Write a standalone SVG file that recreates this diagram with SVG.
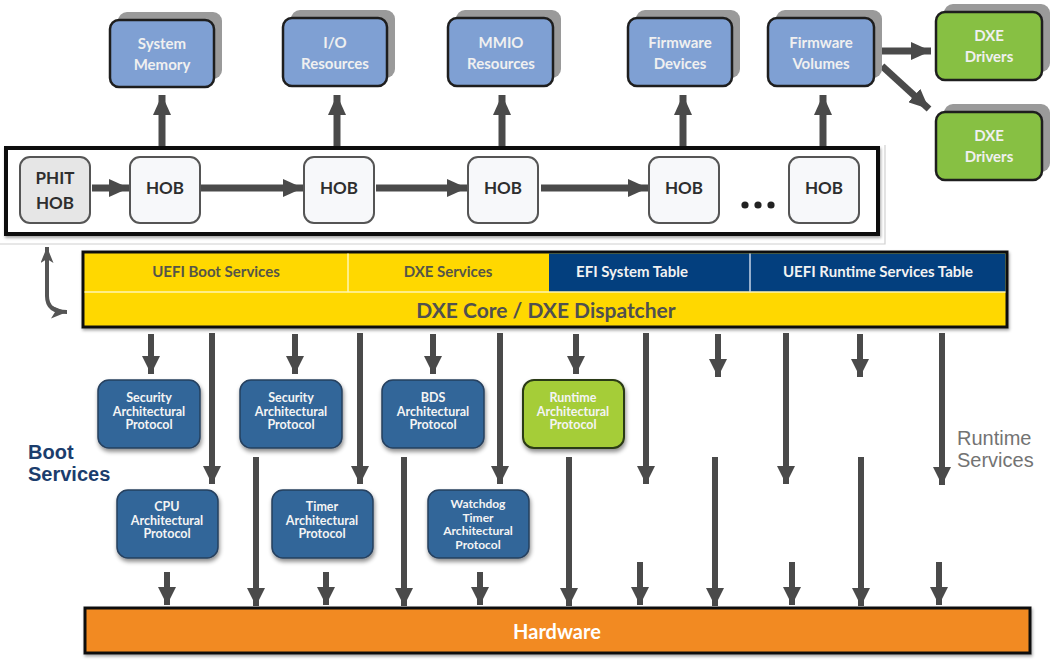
<svg xmlns="http://www.w3.org/2000/svg" width="1055" height="664" viewBox="0 0 1055 664">
<defs>
<style>
.res{fill:#7fa0d3;stroke:#1e1e1e;stroke-width:2.5}
.shadow{fill:#9a9a9a}
.drv{fill:#87c043;stroke:#1e1e1e;stroke-width:2.5}
.rt{fill:#f0f0f0;font-family:Lato,"Open Sans",sans-serif;font-weight:bold;font-size:15px;text-anchor:middle}
.hob{fill:#f7f8fa;stroke:#555;stroke-width:2}
.phit{fill:#e6e6e6;stroke:#555;stroke-width:2}
.ht{fill:#2e2e2e;font-family:Lato,"Open Sans",sans-serif;font-weight:bold;font-size:17px;text-anchor:middle}
.proto{fill:#336699;stroke:#26405e;stroke-width:1.5;filter:url(#ds)}
.protog{fill:#a5cd39;stroke:#2c3a14;stroke-width:2;filter:url(#ds)}
.pt{fill:#f4f4f4;font-family:Lato,"Open Sans",sans-serif;font-weight:bold;font-size:12.5px;text-anchor:middle}
.pts{fill:#f4f4f4;font-family:Lato,"Open Sans",sans-serif;font-weight:bold;font-size:12px;text-anchor:middle}
.cellt{font-family:Lato,"Open Sans",sans-serif;font-weight:bold;font-size:15px;text-anchor:middle}
.arr{stroke:#4a4a4a;stroke-width:6;fill:none;marker-end:url(#ah)}
.arrT{stroke:#4a4a4a;stroke-width:7;fill:none;marker-end:url(#ahB)}
.lbl{font-family:"Liberation Sans",Arial,sans-serif;font-size:20px}
</style>
<marker id="ah" markerUnits="userSpaceOnUse" markerWidth="18" markerHeight="20" refX="18" refY="9" orient="auto" viewBox="0 0 18 18">
<path d="M0,0 L18,9 L0,18 Z" fill="#4a4a4a"/>
</marker>
<marker id="ahB" markerUnits="userSpaceOnUse" markerWidth="20" markerHeight="18" refX="20" refY="9" orient="auto" viewBox="0 0 20 18">
<path d="M0,0 L20,9 L0,18 Z" fill="#4a4a4a"/>
</marker>
<marker id="ahS" markerUnits="userSpaceOnUse" markerWidth="16" markerHeight="13" refX="16" refY="6.5" orient="auto" viewBox="0 0 16 13">
<path d="M0,0 L16,6.5 L0,13 L4,6.5 Z" fill="#555"/>
</marker>
<marker id="ahS0" markerUnits="userSpaceOnUse" markerWidth="16" markerHeight="13" refX="16" refY="6.5" orient="auto-start-reverse" viewBox="0 0 16 13">
<path d="M0,0 L16,6.5 L0,13 L4,6.5 Z" fill="#555"/>
</marker>
<filter id="ds" x="-10%" y="-10%" width="130%" height="140%">
<feDropShadow dx="1" dy="3" stdDeviation="2" flood-color="#000" flood-opacity="0.45"/>
</filter>
<filter id="ds2" x="-5%" y="-10%" width="110%" height="130%">
<feDropShadow dx="1" dy="2" stdDeviation="1.5" flood-color="#000" flood-opacity="0.35"/>
</filter>
</defs>
<rect width="1055" height="664" fill="#ffffff"/>

<!-- HOB list container -->
<g id="hob-list">
<path d="M0,244 H885 V145" fill="none" stroke="#d0d0d0" stroke-width="1.2"/>
<rect x="6" y="148" width="872" height="86" fill="#ffffff" stroke="#111" stroke-width="4" filter="url(#ds2)"/>
</g>

<g id="connectors">
<!-- up arrows to resources -->
<path class="arrT" d="M162,146 V95"/>
<path class="arrT" d="M337,146 V95"/>
<path class="arrT" d="M502,146 V95"/>
<path class="arrT" d="M683,146 V95"/>
<path class="arrT" d="M823,146 V95"/>
<!-- FV to DXE drivers -->
<path class="arrT" d="M882,51 H931"/>
<path class="arrT" d="M882,66 L929,109"/>
<!-- HOB chain -->
<path class="arrT" d="M92,188 H129"/>
<path class="arrT" d="M200,188 H303"/>
<path class="arrT" d="M376,188 H467"/>
<path class="arrT" d="M541,188 H648"/>
<!-- left bidirectional curved arrow -->
<path d="M47,247 V296 Q47,312 67,312" fill="none" stroke="#555" stroke-width="4" marker-start="url(#ahS0)" marker-end="url(#ahS)"/>
<!-- dispatcher to row1 (short) -->
<path class="arr" d="M151,334 V374"/>
<path class="arr" d="M295,334 V374"/>
<path class="arr" d="M433,334 V374"/>
<path class="arr" d="M576,334 V374"/>
<path class="arr" d="M718,334 V377"/>
<path class="arr" d="M860,334 V377"/>
<!-- dispatcher long -->
<path class="arr" d="M212,333 V484"/>
<path class="arr" d="M360,333 V484"/>
<path class="arr" d="M500,333 V484"/>
<path class="arr" d="M646,333 V484"/>
<path class="arr" d="M786,333 V484"/>
<path class="arr" d="M942,333 V485"/>
<!-- long to hardware -->
<path class="arr" d="M256,457 V606"/>
<path class="arr" d="M404,457 V606"/>
<path class="arr" d="M569,457 V606"/>
<path class="arr" d="M715,457 V606"/>
<path class="arr" d="M861,457 V606"/>
<!-- short to hardware -->
<path class="arr" d="M167,572 V605"/>
<path class="arr" d="M326,572 V605"/>
<path class="arr" d="M480,572 V605"/>
<path class="arr" d="M640,562 V605"/>
<path class="arr" d="M792,562 V605"/>
<path class="arr" d="M939,562 V605"/>
</g>

<!-- resources -->
<g id="system-memory">
<rect class="shadow" x="118" y="12" width="104" height="67" rx="9"/>
<rect class="res" x="110" y="20" width="104" height="67" rx="9"/>
<text class="rt" x="162" y="49">System</text><text class="rt" x="162" y="70">Memory</text>
</g>
<g id="io-resources">
<rect class="shadow" x="291" y="10" width="104" height="68" rx="9"/>
<rect class="res" x="283" y="18" width="104" height="68" rx="9"/>
<text class="rt" x="335" y="48">I/O</text><text class="rt" x="335" y="69">Resources</text>
</g>
<g id="mmio-resources">
<rect class="shadow" x="456" y="10" width="105" height="68" rx="9"/>
<rect class="res" x="448" y="18" width="105" height="68" rx="9"/>
<text class="rt" x="501" y="48">MMIO</text><text class="rt" x="501" y="69">Resources</text>
</g>
<g id="firmware-devices">
<rect class="shadow" x="636" y="10" width="104" height="68" rx="9"/>
<rect class="res" x="628" y="18" width="104" height="68" rx="9"/>
<text class="rt" x="680" y="48">Firmware</text><text class="rt" x="680" y="69">Devices</text>
</g>
<g id="firmware-volumes">
<rect class="shadow" x="776" y="10" width="106" height="68" rx="9"/>
<rect class="res" x="768" y="18" width="106" height="68" rx="9"/>
<text class="rt" x="821" y="48">Firmware</text><text class="rt" x="821" y="69">Volumes</text>
</g>
<g id="dxe-drivers-1">
<rect class="shadow" x="944" y="4" width="106" height="68" rx="9"/>
<rect class="drv" x="936" y="12" width="106" height="68" rx="9"/>
<text class="rt" x="989" y="41">DXE</text><text class="rt" x="989" y="62">Drivers</text>
</g>
<g id="dxe-drivers-2">
<rect class="shadow" x="944" y="104" width="106" height="68" rx="9"/>
<rect class="drv" x="936" y="112" width="106" height="68" rx="9"/>
<text class="rt" x="989" y="141">DXE</text><text class="rt" x="989" y="162">Drivers</text>
</g>

<!-- HOBs -->
<g id="phit-hob"><rect class="phit" x="20" y="157" width="70" height="66" rx="10"/><text class="ht" x="55" y="184">PHIT</text><text class="ht" x="55" y="209">HOB</text></g>
<g id="hob-1"><rect class="hob" x="130" y="157" width="70" height="66" rx="10"/><text class="ht" x="165" y="194">HOB</text></g>
<g id="hob-2"><rect class="hob" x="304" y="157" width="70" height="66" rx="10"/><text class="ht" x="339" y="194">HOB</text></g>
<g id="hob-3"><rect class="hob" x="468" y="157" width="70" height="66" rx="10"/><text class="ht" x="503" y="194">HOB</text></g>
<g id="hob-4"><rect class="hob" x="649" y="157" width="70" height="66" rx="10"/><text class="ht" x="684" y="194">HOB</text></g>
<g id="hob-dots"><circle cx="745" cy="205" r="3.6" fill="#222"/><circle cx="758" cy="205" r="3.6" fill="#222"/><circle cx="771" cy="205" r="3.6" fill="#222"/></g>
<g id="hob-5"><rect class="hob" x="789" y="157" width="70" height="66" rx="10"/><text class="ht" x="824" y="194">HOB</text></g>

<!-- Dispatcher -->
<g id="dxe-core">
<rect x="83" y="252" width="924" height="75" fill="#ffd800" stroke="#111" stroke-width="3" filter="url(#ds2)"/>
<rect x="549" y="253.5" width="456.5" height="38.5" fill="#033f7e"/>
<line x1="84.5" y1="292" x2="1005.5" y2="292" stroke="#fff6b0" stroke-width="1.5"/>
<line x1="348" y1="253.5" x2="348" y2="292" stroke="#fff6b0" stroke-width="1.5"/>
<line x1="750" y1="253.5" x2="750" y2="292" stroke="#c9d6e8" stroke-width="1.5"/>
<text class="cellt" x="216" y="277" fill="#555548">UEFI Boot Services</text>
<text class="cellt" x="448" y="277" fill="#555548">DXE Services</text>
<text class="cellt" x="632" y="277" fill="#f2f2f2">EFI System Table</text>
<text class="cellt" x="878" y="277" fill="#f2f2f2">UEFI Runtime Services Table</text>
<text x="546" y="318" font-family="Lato,'Open Sans',sans-serif" font-weight="bold" font-size="21" fill="#505050" text-anchor="middle">DXE Core / DXE Dispatcher</text>
</g>

<!-- protocols row 1 -->
<g id="security-ap-1"><rect class="proto" x="98" y="380" width="102" height="68" rx="11"/><text class="pt" x="149" y="402">Security</text><text class="pt" x="149" y="416">Architectural</text><text class="pt" x="149" y="429">Protocol</text></g>
<g id="security-ap-2"><rect class="proto" x="240" y="380" width="102" height="68" rx="11"/><text class="pt" x="291" y="402">Security</text><text class="pt" x="291" y="416">Architectural</text><text class="pt" x="291" y="429">Protocol</text></g>
<g id="bds-ap"><rect class="proto" x="382" y="380" width="102" height="68" rx="11"/><text class="pt" x="433" y="402">BDS</text><text class="pt" x="433" y="416">Architectural</text><text class="pt" x="433" y="429">Protocol</text></g>
<g id="runtime-ap"><rect class="protog" x="523" y="380" width="101" height="68" rx="11"/><text class="pt" x="573" y="402">Runtime</text><text class="pt" x="573" y="416">Architectural</text><text class="pt" x="573" y="429">Protocol</text></g>

<!-- protocols row 2 -->
<g id="cpu-ap"><rect class="proto" x="117" y="490" width="101" height="68" rx="11"/><text class="pt" x="167" y="511">CPU</text><text class="pt" x="167" y="525">Architectural</text><text class="pt" x="167" y="538">Protocol</text></g>
<g id="timer-ap"><rect class="proto" x="272" y="490" width="101" height="68" rx="11"/><text class="pt" x="322" y="511">Timer</text><text class="pt" x="322" y="525">Architectural</text><text class="pt" x="322" y="538">Protocol</text></g>
<g id="watchdog-ap"><rect class="proto" x="428" y="490" width="101" height="68" rx="11"/><text class="pts" x="478" y="508">Watchdog</text><text class="pts" x="478" y="521.5">Timer</text><text class="pts" x="478" y="535">Architectural</text><text class="pts" x="478" y="548.5">Protocol</text></g>

<!-- labels -->
<g id="boot-services-label"><text class="lbl" x="28" y="459" fill="#1b3d6d" font-weight="bold">Boot</text><text class="lbl" x="28" y="481" fill="#1b3d6d" font-weight="bold">Services</text></g>
<g id="runtime-services-label"><text class="lbl" x="957" y="445" fill="#737373">Runtime</text><text class="lbl" x="957" y="467" fill="#737373">Services</text></g>

<!-- Hardware -->
<g id="hardware">
<rect x="85" y="608" width="945" height="45" fill="#f28a21" stroke="#111" stroke-width="3" filter="url(#ds2)"/>
<text x="557" y="639" font-family="Lato,'Open Sans',sans-serif" font-weight="bold" font-size="20" fill="#ffffff" text-anchor="middle">Hardware</text>
</g>
</svg>
